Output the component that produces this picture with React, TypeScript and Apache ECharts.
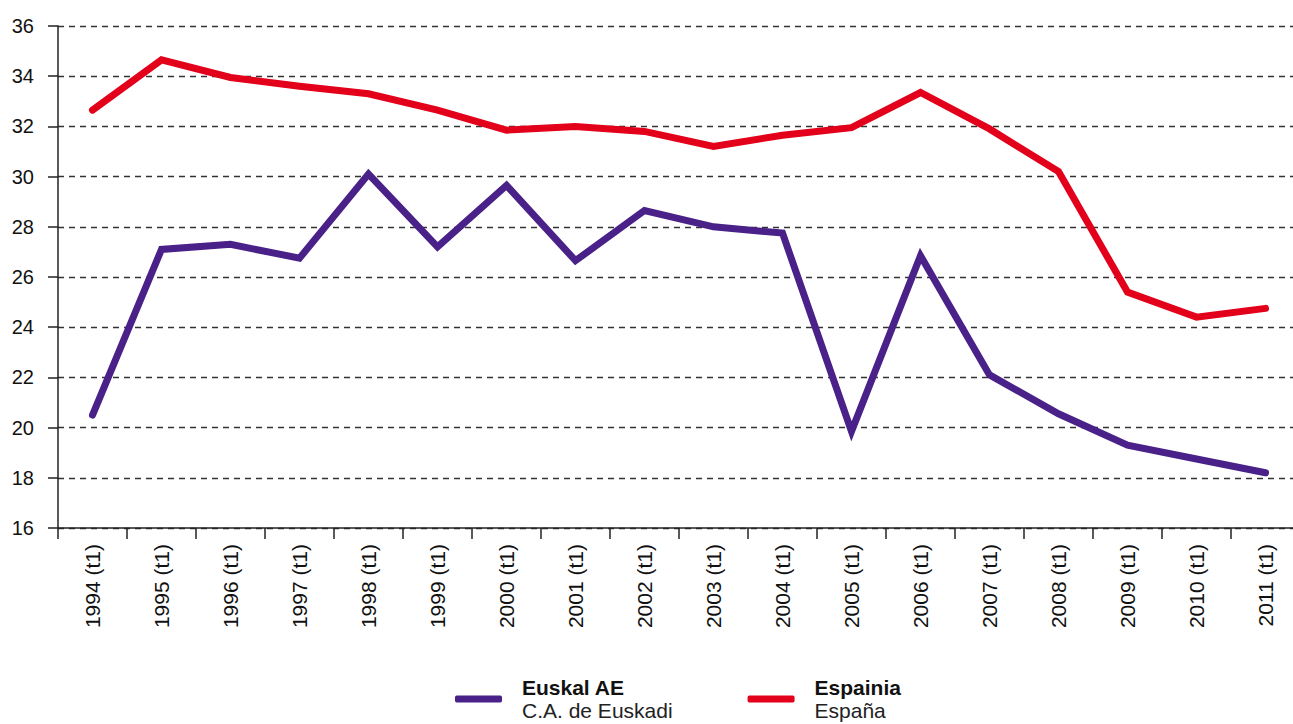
import React, { useEffect, useRef } from "react";
import * as echarts from "echarts";

const categories = ["1994 (t1)", "1995 (t1)", "1996 (t1)", "1997 (t1)", "1998 (t1)", "1999 (t1)", "2000 (t1)", "2001 (t1)", "2002 (t1)", "2003 (t1)", "2004 (t1)", "2005 (t1)", "2006 (t1)", "2007 (t1)", "2008 (t1)", "2009 (t1)", "2010 (t1)", "2011 (t1)"];
const euskadi = [20.5, 27.1, 27.3, 26.75, 30.1, 27.2, 29.65, 26.65, 28.65, 28.0, 27.75, 19.85, 26.85, 22.1, 20.55, 19.3, 18.75, 18.2];
const espana = [32.65, 34.65, 33.95, 33.6, 33.3, 32.65, 31.85, 32.0, 31.8, 31.2, 31.65, 31.95, 33.35, 31.9, 30.2, 25.4, 24.4, 24.75];
const seriesNames = ["Euskal AE\nC.A. de Euskadi", "Espainia\nEspaña"];

export default function App() {
  const ref = useRef<HTMLDivElement>(null);
  useEffect(() => {
    const chart = echarts.init(ref.current!, null, { renderer: "svg" });
    const font = "'Liberation Sans', Arial, Helvetica, sans-serif";
    chart.setOption({
      animation: false,
      grid: { left: 58, width: 1242, top: 26, bottom: 196, containLabel: false, outerBoundsMode: "none" },
      legend: {
        left: 450,
        top: 672,
        itemWidth: 47,
        itemHeight: 7,
        itemGap: 75,
        icon: "roundRect",
        data: seriesNames,
        formatter: (name: string) => {
          const [a, b] = name.split("\n");
          return `{b|${a}}\n{n|${b}}`;
        },
        textStyle: {
          fontFamily: font,
          rich: {
            b: { fontWeight: "bold", fontSize: 21, color: "#111", fontFamily: font, padding: [0, 0, 0, 15], lineHeight: 23 },
            n: { fontSize: 21, color: "#222", fontFamily: font, padding: [0, 0, 0, 15], lineHeight: 23 },
          },
        },
      },
      xAxis: {
        type: "category",
        data: categories,
        boundaryGap: true,
        axisLine: { lineStyle: { color: "#222", width: 1.5 } },
        axisTick: { show: true, length: 11, lineStyle: { color: "#222", width: 1.5 } },
        axisLabel: { rotate: 90, margin: 16, fontSize: 21, color: "#111", fontFamily: font, interval: 0 },
        splitLine: { show: false },
      },
      yAxis: {
        type: "value",
        min: 16,
        max: 36,
        interval: 2,
        axisLine: { show: true, lineStyle: { color: "#222", width: 1.5 } },
        axisTick: { show: true, length: 10, lineStyle: { color: "#222", width: 1.5 } },
        axisLabel: { margin: 24, fontSize: 20, color: "#111", fontFamily: font },
        splitLine: { show: true, lineStyle: { color: "#333", type: [6, 5], width: 1.3 } },
      },
      series: [
        {
          name: seriesNames[0],
          type: "line",
          data: euskadi,
          symbol: "none",
          lineStyle: { color: "#4a2189", width: 7, cap: "round", join: "miter" },
          itemStyle: { color: "#4a2189" },
        },
        {
          name: seriesNames[1],
          type: "line",
          data: espana,
          symbol: "none",
          lineStyle: { color: "#e2001a", width: 7, cap: "round", join: "miter" },
          itemStyle: { color: "#e2001a" },
        },
      ],
    });
    return () => chart.dispose();
  }, []);
  return <div ref={ref} style={{ position: "absolute", left: 0, top: 0, width: 1293, height: 724 }} />;
}
